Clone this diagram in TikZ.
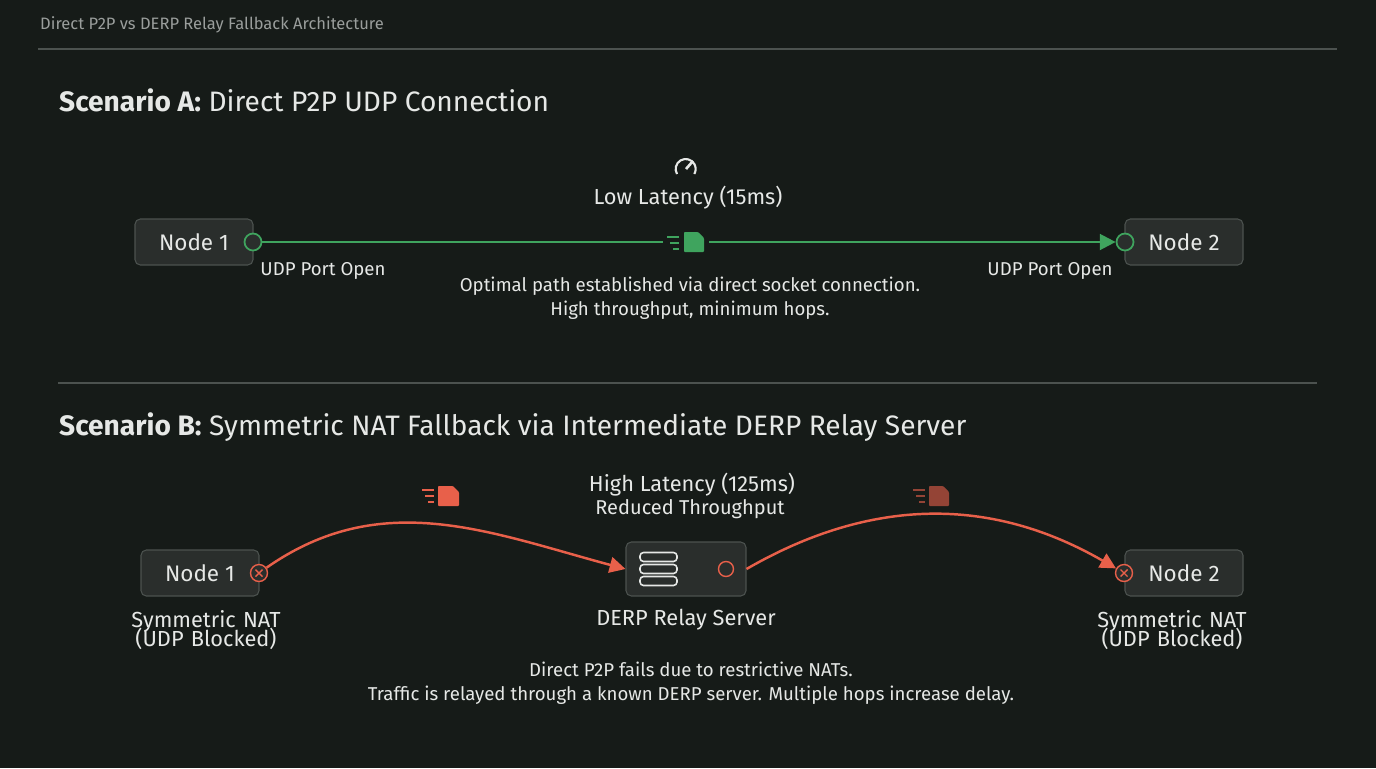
\documentclass[tikz,border=0pt]{standalone}
\usepackage{fontspec}
\setmainfont{Fira Sans}
\usetikzlibrary{arrows.meta, positioning}
\definecolor{bgc}{HTML}{161B18}
\definecolor{boxc}{HTML}{2A2E2C}
\definecolor{edgec}{HTML}{4C524F}
\definecolor{txtc}{HTML}{E6E8E6}
\definecolor{dimc}{HTML}{9A9E9C}
\definecolor{okc}{HTML}{3FA45E}
\definecolor{badc}{HTML}{E8604A}
\begin{document}
\begin{tikzpicture}[x=0.02cm, y=-0.02cm,
        peer/.style={rectangle, draw=edgec, fill=boxc, rounded corners=3pt, line width=0.6pt,
            minimum width=2.36cm, minimum height=0.92cm, text=txtc, font=\fontsize{12.8}{15}\selectfont},
        note/.style={text=txtc, align=center, font=\fontsize{10.6}{13.5}\selectfont},
        big/.style={font=\fontsize{12.4}{14}\selectfont},
        head/.style={text=txtc, anchor=west, font=\fontsize{16}{19}\selectfont},
        port/.style={circle, draw=okc, fill=boxc, line width=1pt, minimum size=0.34cm, inner sep=0pt},
        block/.style={circle, draw=badc, fill=boxc, line width=0.8pt, minimum size=0.34cm, inner sep=0pt},
        okline/.style={draw=okc, line width=1.4pt},
        badline/.style={draw=badc, line width=1.4pt, -{Triangle[length=9pt,width=9pt]}}
    ]
    \fill[bgc] (0,0) rectangle (1376,768);
    \useasboundingbox (0,0) rectangle (1376,768);

    % header
    \node[anchor=west, text=dimc, font=\fontsize{9.4}{11}\selectfont] (title) at (34,25) {Direct P2P vs DERP Relay Fallback Architecture};
    \draw[edgec, line width=0.6pt] (38,49) -- (1337,49);
    \draw[edgec, line width=0.6pt] (58,383) -- (1317,383);

    % scenario A
    \node[head] (headA) at (53,100) {\textbf{Scenario A:} Direct P2P UDP Connection};
    \node[peer] (a1) at (194,242) {Node 1};
    \node[peer] (a2) at (1184,242) {Node 2};
    \node[port] (p1) at (253,242) {};
    \node[port] (p2) at (1125,242) {};
    \coordinate (docA) at (686,242);
    \draw[okline] (p1) -- ([xshift=-0.46cm]docA);
    \draw[okline, -{Triangle[length=9pt,width=9pt]}] ([xshift=0.46cm]docA) -- (p2);
    % file icon
    \fill[okc, rounded corners=0.5pt] (684,232) -- (698,232) -- (704,238) -- (704,252) -- (684,252) -- cycle;
    \foreach \y/\l in {237/12, 243/9, 249/6} \draw[okc, line width=1.2pt] (679-\l,\y) -- (679,\y);
    % gauge icon
    \draw[txtc, line width=1.2pt] (677,174) arc[start angle=-210, end angle=30, radius=10];
    \draw[txtc, line width=1.5pt] (686,169) -- (693,161);
    \node[note, big] (latA) at (688,198) {Low Latency (15ms)};
    \node[note, below=0.1cm of p1, xshift=1.4cm] (portA1) {UDP Port Open};
    \node[note, below=0.1cm of p2, xshift=-1.5cm] (portA2) {UDP Port Open};
    \node[note] (descA) at (690,298) {Optimal path established via direct socket connection.\\High throughput, minimum hops.};

    % scenario B
    \node[head] (headB) at (53,427) {\textbf{Scenario B:} Symmetric NAT Fallback via Intermediate DERP Relay Server};
    \node[peer] (b1) at (200,573) {Node 1};
    \node[peer] (b2) at (1184,573) {Node 2};
    \node[peer, minimum width=2.4cm, minimum height=1.08cm] (derp) at (686,569) {};
    \foreach \y in {557,569,581} \draw[txtc, line width=0.9pt, rounded corners=2pt] (640,\y-4.5) rectangle (677,\y+4.5);
    \node[circle, draw=badc, line width=0.8pt, minimum size=0.3cm, inner sep=0pt] (led) at (726,569) {};
    \node[block] (x1) at (259,573) {};
    \node[block] (x2) at (1124,573) {};
    \foreach \n in {x1,x2} {
        \draw[badc, line width=0.8pt] ([shift={(-3.5,-3.5)}]\n.center) -- ([shift={(3.5,3.5)}]\n.center);
        \draw[badc, line width=0.8pt] ([shift={(-3.5,3.5)}]\n.center) -- ([shift={(3.5,-3.5)}]\n.center);
    }
    \draw[badline] (x1) to[out=35, in=165] (derp.west);
    \draw[badline] (derp.east) to[out=30, in=150] (x2);
    % file icons
    \fill[badc, rounded corners=0.5pt] (438,486) -- (453,486) -- (459,492) -- (459,506) -- (438,506) -- cycle;
    \foreach \y/\l in {490/12, 496/9, 502/6} \draw[badc, line width=1.2pt] (434-\l,\y) -- (434,\y);
    \fill[badc!60!bgc, rounded corners=0.5pt] (929,486) -- (943,486) -- (949,492) -- (949,506) -- (929,506) -- cycle;
    \foreach \y/\l in {490/12, 496/9, 502/6} \draw[badc!60!bgc, line width=1.2pt] (925-\l,\y) -- (925,\y);
    \node[note, big] (latB) at (692,485) {High Latency (125ms)};
    \node[note, font=\fontsize{11.4}{13}\selectfont] (thrB) at (690,509) {Reduced Throughput};
    \node[note, big] (derpLbl) at (686,620) {DERP Relay Server};
    \node[note, big, text width=4cm] (natB1) at (206,630) {Symmetric NAT\\[-3pt](UDP Blocked)};
    \node[note, big, text width=4cm] (natB2) at (1172,630) {Symmetric NAT\\[-3pt](UDP Blocked)};
    \node[note] (descB) at (691,683) {Direct P2P fails due to restrictive NATs.\\Traffic is relayed through a known DERP server. Multiple hops increase delay.};
\end{tikzpicture}
\end{document}
